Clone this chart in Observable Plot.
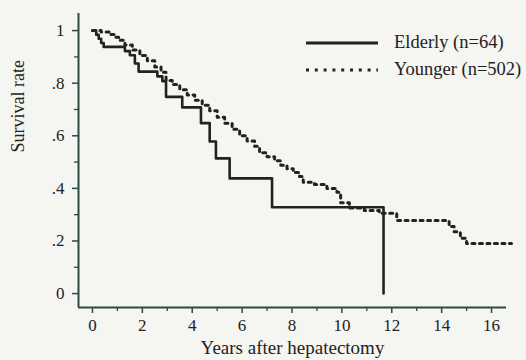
<!DOCTYPE html>
<html><head><meta charset="utf-8">
<script src="https://cdn.jsdelivr.net/npm/d3@7"></script>
<script src="https://cdn.jsdelivr.net/npm/@observablehq/plot@0.6"></script>
<style>
html,body{margin:0;padding:0;background:#f5f5f2;}
#wrap{position:relative;width:526px;height:360px;overflow:hidden;font-family:"Liberation Serif","Times New Roman",serif;color:#222;}
#legend{position:absolute;left:306px;top:29px;font-size:18.5px;}
#legend .row{display:flex;align-items:center;height:27px;white-space:nowrap;}
#legend svg{display:block;margin-right:16px;}
</style></head><body>
<div id="wrap"><div id="chart"></div><div id="legend"></div></div>
<script>
// Elderly (n=64) Kaplan-Meier steps
const elderlyYears = [0, 0.15, 0.25, 0.35, 0.45, 1.3, 1.5, 1.7, 1.85, 2.6, 2.8, 2.95, 3.6, 4.35, 4.7, 4.95, 5.5, 7.2, 11.67];
const elderlySurv  = [1, 0.984, 0.969, 0.953, 0.938, 0.922, 0.906, 0.875, 0.844, 0.826, 0.808, 0.748, 0.708, 0.648, 0.578, 0.514, 0.438, 0.328, 0];
// Younger (n=502) Kaplan-Meier steps
const youngerYears = [0, 0.35, 0.7, 0.9, 1.05, 1.3, 1.6, 1.9, 2.2, 2.5, 2.75, 2.95, 3.2, 3.5, 3.8, 4.1, 4.4, 4.7, 5.0, 5.3, 5.6, 5.9, 6.2, 6.5, 6.7, 7.0, 7.3, 7.55, 7.8, 8.05, 8.3, 8.45, 8.9, 9.4, 9.8, 9.95, 10.3, 10.9, 11.5, 12.2, 14.3, 14.5, 14.75, 15.0, 16.8];
const youngerSurv  = [1, 0.995, 0.985, 0.975, 0.963, 0.945, 0.926, 0.905, 0.885, 0.862, 0.842, 0.81, 0.795, 0.775, 0.755, 0.735, 0.716, 0.695, 0.67, 0.648, 0.625, 0.60, 0.58, 0.56, 0.535, 0.52, 0.505, 0.488, 0.475, 0.46, 0.445, 0.423, 0.415, 0.40, 0.385, 0.345, 0.325, 0.316, 0.305, 0.278, 0.255, 0.235, 0.21, 0.19, 0.19];
const seriesNames = ["Elderly (n=64)", "Younger (n=502)"];
const xTicks = [0, 2, 4, 6, 8, 10, 12, 14, 16];
const xMinorTicks = [1, 3, 5, 7, 9, 11, 13, 15];
const yTicks = [0, 0.2, 0.4, 0.6, 0.8, 1];
const yTickLabels = ["0", ".2", ".4", ".6", ".8", "1"];
const yMinorTicks = [0.1, 0.3, 0.5, 0.7, 0.9];
const xTitle = "Years after hepatectomy";
const yTitle = "Survival rate";

const elderly = elderlyYears.map((t, i) => ({t, s: elderlySurv[i]}));
const younger = youngerYears.map((t, i) => ({t, s: youngerSurv[i]}));

const ink = "#222";
const axisInk = "#2c4b47";
const xDomain = [-0.56, 16.6];
const yDomain = [-0.053, 1.065];

const chart = Plot.plot({
  width: 526, height: 360,
  marginLeft: 78, marginRight: 20, marginTop: 13, marginBottom: 53,
  style: {background: "transparent", fontFamily: "'Liberation Serif','Times New Roman',serif", fontSize: "17px", color: ink},
  x: {domain: xDomain},
  y: {domain: yDomain},
  marks: [
    Plot.axisX({ticks: xTicks, tickSize: 6, tickPadding: 5, fontSize: 17, label: null, stroke: axisInk, strokeWidth: 1.5}),
    Plot.axisX({ticks: xMinorTicks, tickSize: 4, tickFormat: () => "", label: null, stroke: axisInk, strokeWidth: 1.3}),
    Plot.axisY({ticks: yTicks, tickFormat: (d, i) => yTickLabels[i], tickSize: 6, tickPadding: 8, fontSize: 17, label: null, stroke: axisInk, strokeWidth: 1.5}),
    Plot.axisY({ticks: yMinorTicks, tickSize: 4, tickFormat: () => "", label: null, stroke: axisInk, strokeWidth: 1.3}),
    Plot.ruleX([xDomain[0]], {stroke: axisInk, strokeWidth: 2}),
    Plot.ruleY([yDomain[0]], {stroke: axisInk, strokeWidth: 2}),
    Plot.line(younger, {x: "t", y: "s", curve: "step-after", stroke: ink, strokeWidth: 3, strokeDasharray: "3 4.5"}),
    Plot.line(elderly, {x: "t", y: "s", curve: "step-after", stroke: ink, strokeWidth: 2.6}),
    Plot.text([xTitle], {text: d => d, frameAnchor: "bottom", dy: 46, fontSize: 19, fill: ink}),
    Plot.text([yTitle], {text: d => d, frameAnchor: "left", rotate: -90, dx: -60, dy: -8, fontSize: 18, fill: ink})
  ]
});
document.getElementById("chart").appendChild(chart);

// legend
const legend = document.getElementById("legend");
const styles = [{dash: null, w: 3}, {dash: "3 5.8", w: 3}];
seriesNames.forEach((name, i) => {
  const row = document.createElement("div");
  row.className = "row";
  const dash = styles[i].dash ? `stroke-dasharray="${styles[i].dash}"` : "";
  row.innerHTML = `<svg width="72" height="8"><line x1="0" x2="72" y1="4" y2="4" stroke="${ink}" stroke-width="${styles[i].w}" ${dash}/></svg><span>${name}</span>`;
  legend.appendChild(row);
});
</script>
</body></html>
